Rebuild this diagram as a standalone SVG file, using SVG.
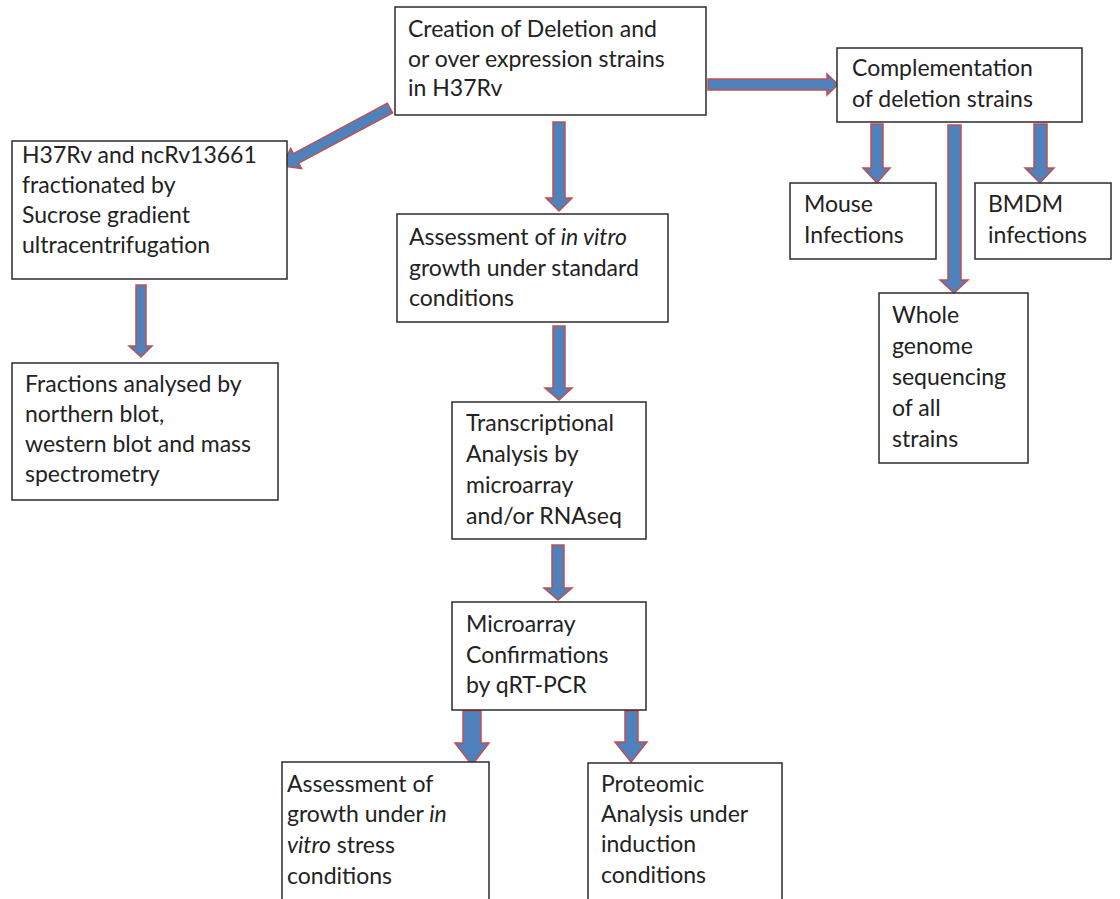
<svg xmlns="http://www.w3.org/2000/svg" width="1120" height="899" viewBox="0 0 1120 899">
<style>
.box{fill:#fff;stroke:#2b2b2b;stroke-width:1.5}
.arr{fill:#4F81BD;stroke:#C0504D;stroke-width:1.5;stroke-linejoin:miter}
text{font-family:Lato,"Open Sans","Liberation Sans",sans-serif;font-size:23px;fill:#222}
.i{font-style:italic}
</style>
<rect width="1120" height="899" fill="#fff"/>
<g id="connectors">
<polygon class="arr" points="553,122 565,122 565,198 572,198 559,211 546,198 553,198"/>
<polygon class="arr" points="553,326 565,326 565,388 572,388 559,400 545,388 553,388"/>
<polygon class="arr" points="552,545 564,545 564,588 572,588 558,600 544,588 552,588"/>
<polygon class="arr" points="463,711 481,711 481,743 489,743 472,765 455,743 463,743"/>
<polygon class="arr" points="625,711 638,711 638,742 647,742 631,762 615,742 625,742"/>
<polygon class="arr" points="136,285 146,285 146,346 152,346 141,357 129,346 136,346"/>
<polygon class="arr" points="871,124 883,124 883,168 890,168 877,183 863,168 871,168"/>
<polygon class="arr" points="948,125 961,125 961,280 968,280 954,293 940,280 948,280"/>
<polygon class="arr" points="1034,124 1047,124 1047,168 1054,168 1040,183 1025,168 1034,168"/>
<polygon class="arr" points="708,79 827,79 827,74 838,84.5 827,95 827,90 708,90"/>
<polygon class="arr" points="387.4,103.2 293.5,153.6 290.7,148.3 282,166 301.5,168.5 298.7,163.2 392.6,112.9"/>
</g>
<g id="n-creation">
<rect class="box" x="395" y="7" width="311" height="108"/>
<text x="408" y="37">Creation of Deletion and</text>
<text x="408" y="67">or over expression strains</text>
<text x="408" y="96">in H37Rv</text>
</g>
<g id="n-complementation">
<rect class="box" x="837" y="48" width="245" height="74"/>
<text x="852" y="76">Complementation</text>
<text x="852" y="107">of deletion strains</text>
</g>
<g id="n-h37rv">
<rect class="box" x="12" y="141" width="275" height="138"/>
<text x="22" y="163">H37Rv and ncRv13661</text>
<text x="22" y="193">fractionated by</text>
<text x="22" y="223">Sucrose gradient</text>
<text x="22" y="253">ultracentrifugation</text>
</g>
<g id="n-fractions">
<rect class="box" x="12" y="363" width="266" height="137"/>
<text x="25" y="392">Fractions analysed by</text>
<text x="25" y="422">northern blot,</text>
<text x="25" y="452">western blot and mass</text>
<text x="25" y="482">spectrometry</text>
</g>
<g id="n-assess-invitro">
<rect class="box" x="397" y="214" width="271" height="108"/>
<text x="409" y="245">Assessment of <tspan class="i">in vitro</tspan></text>
<text x="409" y="276">growth under standard</text>
<text x="409" y="306">conditions</text>
</g>
<g id="n-transcriptional">
<rect class="box" x="452" y="402" width="194" height="137"/>
<text x="466" y="431">Transcriptional</text>
<text x="466" y="462">Analysis by</text>
<text x="466" y="493">microarray</text>
<text x="466" y="524">and/or RNAseq</text>
</g>
<g id="n-microarray">
<rect class="box" x="452" y="602" width="194" height="108"/>
<text x="466" y="632">Microarray</text>
<text x="466" y="663">Confirmations</text>
<text x="466" y="693">by qRT-PCR</text>
</g>
<g id="n-mouse">
<rect class="box" x="790" y="183" width="146" height="76"/>
<text x="804" y="212">Mouse</text>
<text x="804" y="243">Infections</text>
</g>
<g id="n-bmdm">
<rect class="box" x="975" y="183" width="136" height="76"/>
<text x="988" y="212">BMDM</text>
<text x="988" y="243">infections</text>
</g>
<g id="n-wgs">
<rect class="box" x="879" y="293" width="149" height="170"/>
<text x="892" y="323">Whole</text>
<text x="892" y="354">genome</text>
<text x="892" y="385">sequencing</text>
<text x="892" y="416">of all</text>
<text x="892" y="447">strains</text>
</g>
<g id="n-assess-stress">
<rect class="box" x="282" y="762" width="207" height="150"/>
<text x="287" y="792">Assessment of</text>
<text x="287" y="822">growth under <tspan class="i">in</tspan></text>
<text x="287" y="853"><tspan class="i">vitro</tspan> stress</text>
<text x="287" y="884">conditions</text>
</g>
<g id="n-proteomic">
<rect class="box" x="588" y="763" width="194" height="150"/>
<text x="601" y="792">Proteomic</text>
<text x="601" y="822">Analysis under</text>
<text x="601" y="852">induction</text>
<text x="601" y="883">conditions</text>
</g>
</svg>
